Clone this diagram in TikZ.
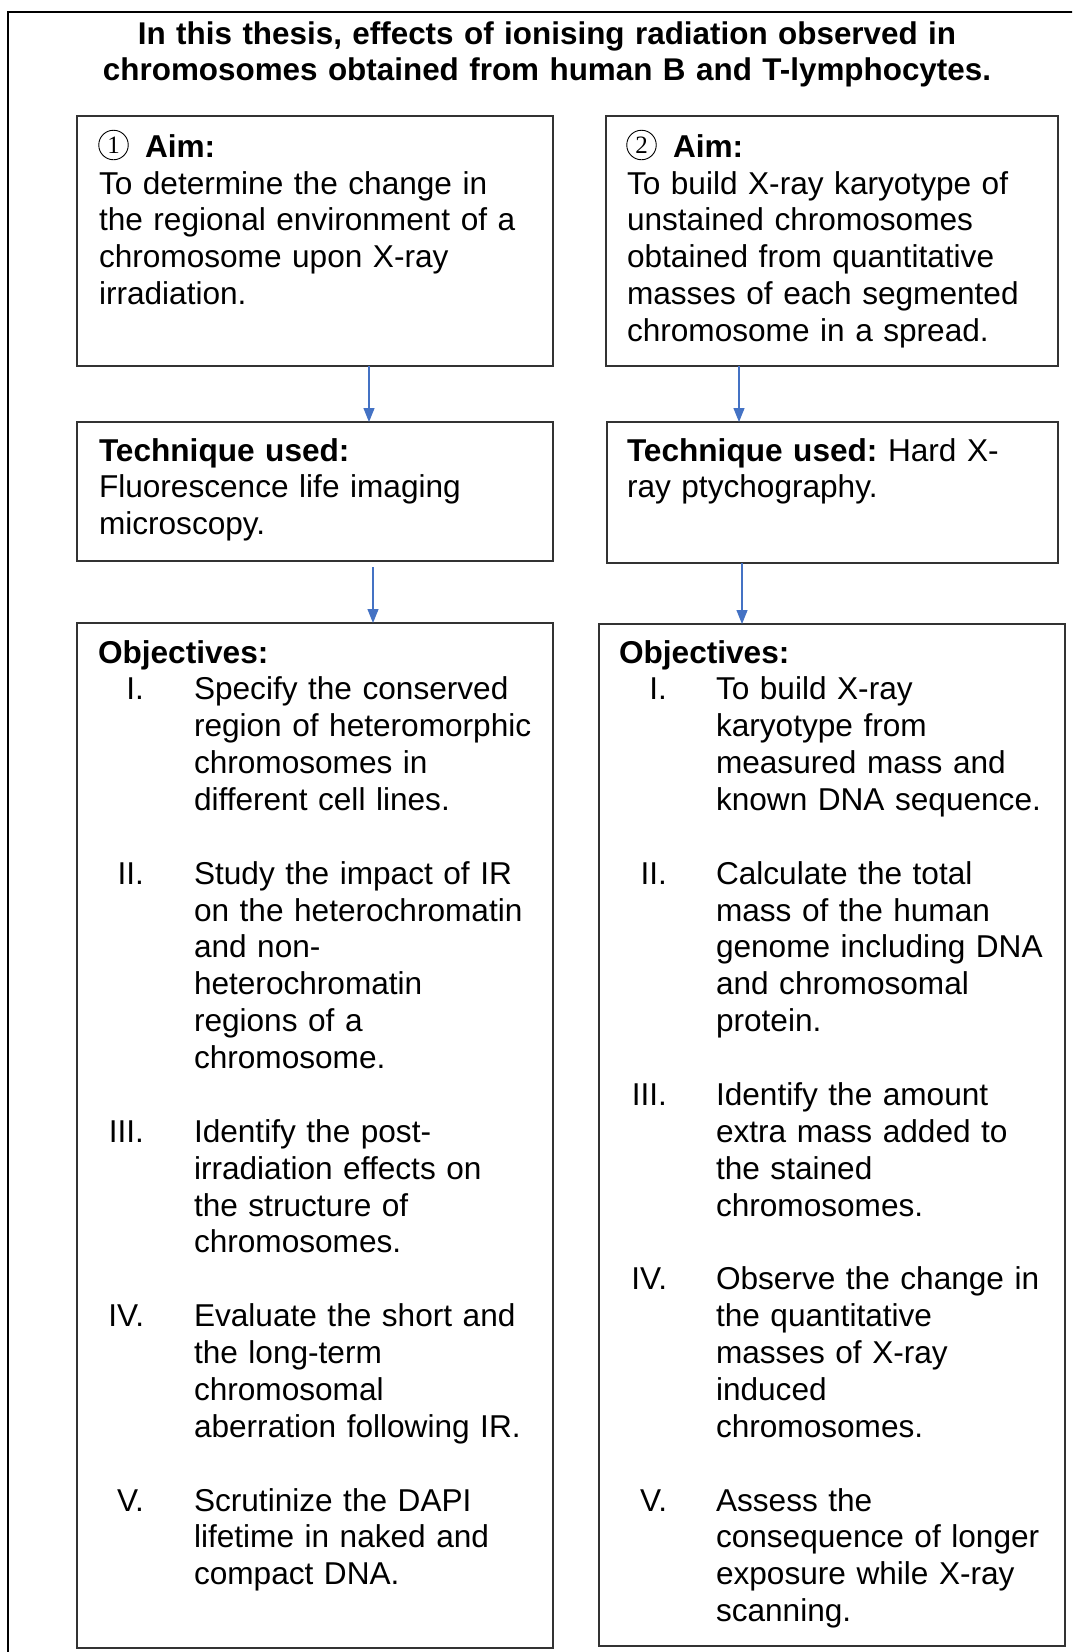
\documentclass[tikz,border=0pt]{standalone}
\usepackage{fontspec}
\setmainfont{Liberation Sans}
\newfontfamily\serifone{Liberation Serif}
\usetikzlibrary{arrows.meta}
\definecolor{arrblue}{HTML}{4472C4}
\definecolor{boxline}{HTML}{333333}
\newcommand\bodyfont{\fontsize{31.6}{36.87}\selectfont}
\newcommand\titlefont{\fontsize{31.4}{36.87}\selectfont}
\frenchspacing
\tikzset{
  box/.style={draw=boxline, line width=1.3pt, rectangle, inner sep=0pt, outer sep=0pt, anchor=north west},
  txt/.style={anchor=base west, inner sep=0pt, outer sep=0pt, font=\bodyfont, text width=470pt, align=left},
  num/.style={anchor=base east, inner sep=0pt, outer sep=0pt, font=\bodyfont},
  conn/.style={draw=arrblue, line width=1.2pt, -{Triangle[length=14pt,width=11pt]}},
  circnum/.style={circle, draw=black, line width=0.9pt, inner sep=0pt, minimum size=29.5pt, font=\serifone\fontsize{25}{25}\selectfont},
}
\begin{document}
\begin{tikzpicture}[x=1pt,y=-1pt]
\useasboundingbox (0,0) rectangle (1072,1652);
\clip (0,0) rectangle (1072,1652);
\fill[white] (0,0) rectangle (1072,1652);
% outer frame
\draw[line width=2pt, black] (8,1700) -- (8,12) -- (1100,12);
% title
\node[anchor=base, inner sep=0pt, font=\bfseries\titlefont, text width=1000pt, align=center] (title) at (547,44)
  {In this thesis, effects of ionising radiation observed in\\chromosomes obtained from human B and T-lymphocytes.};
% boxes
\node[box, minimum width=476pt, minimum height=250pt] (aim1) at (77,116) {};
\node[box, minimum width=452pt, minimum height=250pt] (aim2) at (606,116) {};
\node[box, minimum width=476pt, minimum height=139pt] (tech1) at (77,422) {};
\node[box, minimum width=451pt, minimum height=141pt] (tech2) at (607,422) {};
\node[box, minimum width=476pt, minimum height=1025pt] (obj1) at (77,623) {};
\node[box, minimum width=466pt, minimum height=1022pt] (obj2) at (599,624) {};
% aim 1
\node[circnum] (c1) at (113.5,145) {1};
\node[txt, font=\bfseries\bodyfont] (aimh1) at (145,157) {Aim:};
\node[txt] (aimt1) at (99,194) {To determine the change in\\the regional environment of a\\chromosome upon X-ray\\irradiation.};
% aim 2
\node[circnum] (c2) at (641.5,145) {2};
\node[txt, font=\bfseries\bodyfont] (aimh2) at (673,157) {Aim:};
\node[txt] (aimt2) at (627,194) {To build X-ray karyotype of\\unstained chromosomes\\obtained from quantitative\\masses of each segmented\\chromosome in a spread.};
% technique
\node[txt] (techt1) at (99,461) {\textbf{Technique used:}\\Fluorescence life imaging\\microscopy.};
\node[txt] (techt2) at (627,461) {\textbf{Technique used:} Hard X-\\ray ptychography.};
% objectives left
\node[txt, font=\bfseries\bodyfont] (objh1) at (98,663) {Objectives:};
\node[num] (l1n) at (144,699.9) {I.};
\node[txt] (l1t) at (194,699.9) {Specify the conserved\\region of heteromorphic\\chromosomes in\\different cell lines.};
\node[num] (l2n) at (144,884.2) {II.};
\node[txt] (l2t) at (194,884.2) {Study the impact of IR\\on the heterochromatin\\and non-\\heterochromatin\\regions of a\\chromosome.};
\node[num] (l3n) at (144,1142.3) {III.};
\node[txt] (l3t) at (194,1142.3) {Identify the post-\\irradiation effects on\\the structure of\\chromosomes.};
\node[num] (l4n) at (144,1326.7) {IV.};
\node[txt] (l4t) at (194,1326.7) {Evaluate the short and\\the long-term\\chromosomal\\aberration following IR.};
\node[num] (l5n) at (144,1511) {V.};
\node[txt] (l5t) at (194,1511) {Scrutinize the DAPI\\lifetime in naked and\\compact DNA.};
% objectives right
\node[txt, font=\bfseries\bodyfont] (objh2) at (619,663) {Objectives:};
\node[num] (r1n) at (667,699.9) {I.};
\node[txt] (r1t) at (716,699.9) {To build X-ray\\karyotype from\\measured mass and\\known DNA sequence.};
\node[num] (r2n) at (667,884.2) {II.};
\node[txt] (r2t) at (716,884.2) {Calculate the total\\mass of the human\\genome including DNA\\and chromosomal\\protein.};
\node[num] (r3n) at (667,1105.4) {III.};
\node[txt] (r3t) at (716,1105.4) {Identify the amount\\extra mass added to\\the stained\\chromosomes.};
\node[num] (r4n) at (667,1289.8) {IV.};
\node[txt] (r4t) at (716,1289.8) {Observe the change in\\the quantitative\\masses of X-ray\\induced\\chromosomes.};
\node[num] (r5n) at (667,1511) {V.};
\node[txt] (r5t) at (716,1511) {Assess the\\consequence of longer\\exposure while X-ray\\scanning.};
% connectors
\coordinate (x1) at (369,0);
\coordinate (x2) at (739,0);
\coordinate (s3) at (373,567);
\coordinate (x4) at (742,0);
\draw[conn] (aim1.south -| x1) -- (tech1.north -| x1);
\draw[conn] (aim2.south -| x2) -- (tech2.north -| x2);
\draw[conn] (s3) -- (obj1.north -| s3);
\draw[conn] (tech2.south -| x4) -- (obj2.north -| x4);
\end{tikzpicture}
\end{document}
